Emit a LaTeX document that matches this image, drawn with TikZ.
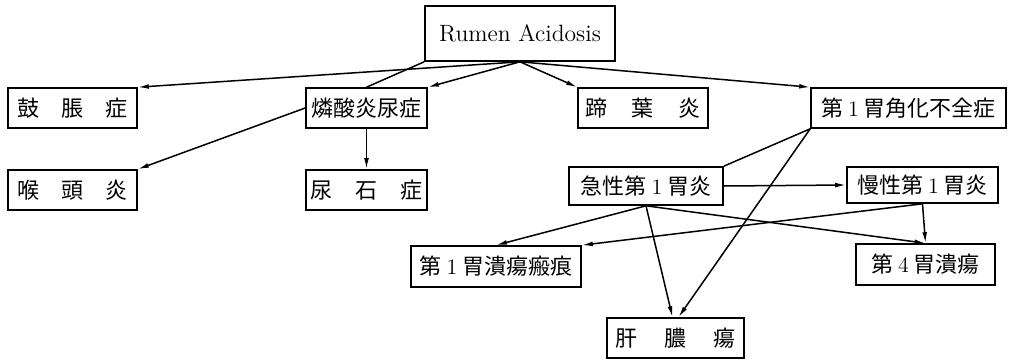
\documentclass[tikz,border=0pt]{standalone}
\usepackage{fontspec}
\newfontfamily\cjk{Noto Sans CJK JP}
\usetikzlibrary{arrows.meta}
\newcommand\jp[1]{{\cjk #1}}
\newcommand\spread[2]{{\cjk\makebox[#1][s]{#2}}}
\begin{document}
\begin{tikzpicture}[x=0.5pt, y=-0.5pt,
    every node/.style={draw, line width=0.8pt, inner sep=0pt, font=\fontsize{11}{13}\selectfont},
    arr/.style={-{Latex[length=5.5pt,width=2.4pt]}, line width=0.75pt}]
  \useasboundingbox (0,0) rectangle (1009,360);
  \node [minimum width=95pt, minimum height=27.5pt, font=\fontsize{11.8}{13}\selectfont] (rumen) at (520,33.5) {Rumen Acidosis};
  \node [minimum width=64.5pt, minimum height=20pt] (kocho) at (72.5,108) {\spread{55pt}{鼓\hfil 脹\hfil 症}};
  \node [minimum width=60.5pt, minimum height=20pt] (rinsan) at (366.5,108) {\jp{燐酸炎尿症}};
  \node [minimum width=65pt, minimum height=20pt] (teiyo) at (643,108) {\spread{58pt}{蹄\hfil 葉\hfil 炎}};
  \node [minimum width=97.5pt, minimum height=20pt] (kakuka) at (908.5,108) {\jp{第}\hspace{2.5pt}1\hspace{2.5pt}\jp{胃角化不全症}};
  \node [minimum width=64.5pt, minimum height=20pt] (koto) at (72.5,190) {\spread{55pt}{喉\hfil 頭\hfil 炎}};
  \node [minimum width=60.5pt, minimum height=20pt] (nyoseki) at (366.5,190) {\spread{56pt}{尿\hfil 石\hfil 症}};
  \node [minimum width=77pt, minimum height=19pt] (kyusei) at (646,186) {\jp{急性第}\hspace{2.5pt}1\hspace{2.5pt}\jp{胃炎}};
  \node [minimum width=75.5pt, minimum height=18pt] (mansei) at (922.5,185) {\jp{慢性第}\hspace{2.5pt}1\hspace{2.5pt}\jp{胃炎}};
  \node [minimum width=85pt, minimum height=20.5pt] (hankon) at (496,266.5) {\jp{第}\hspace{2.5pt}1\hspace{2.5pt}\jp{胃潰瘍瘢痕}};
  \node [minimum width=69.5pt, minimum height=20.5pt] (kaiyo) at (925.5,264.5) {\jp{第}\hspace{2.5pt}4\hspace{2.5pt}\jp{胃潰瘍}};
  \node [minimum width=68.5pt, minimum height=20pt] (kanno) at (675.5,338) {\spread{60pt}{肝\hfil 膿\hfil 瘍}};
  \coordinate (kannoL) at ([xshift=-1.5pt]kanno.north);
  \coordinate (kannoR) at ([xshift=1.5pt]kanno.north);
  \draw [arr] (rumen.south) -- (kocho.north east);
  \draw [arr] (rumen.south) -- (rinsan.north east);
  \draw [arr] (rumen.south) -- (teiyo.north west);
  \draw [arr] (rumen.south) -- (kakuka.north west);
  \draw [line width=0.75pt] (rumen.south west) -- (rinsan.north);
  \draw [arr] (rinsan.west) -- (koto.north east);
  \draw [arr] (rinsan.south) -- (nyoseki.north);
  \draw [line width=0.75pt] (kakuka.south west) -- (kyusei.north east);
  \draw [arr] (kakuka.south west) -- (kannoR);
  \draw [arr] (kyusei.east) -- (mansei.west);
  \draw [arr] (kyusei.south) -- (hankon.north);
  \draw [arr] (kyusei.south) -- (kaiyo.north);
  \draw [arr] (kyusei.south) -- (kannoL);
  \draw [arr] (mansei.south) -- (hankon.north east);
  \draw [arr] (mansei.south) -- (kaiyo.north);
\end{tikzpicture}
\end{document}
